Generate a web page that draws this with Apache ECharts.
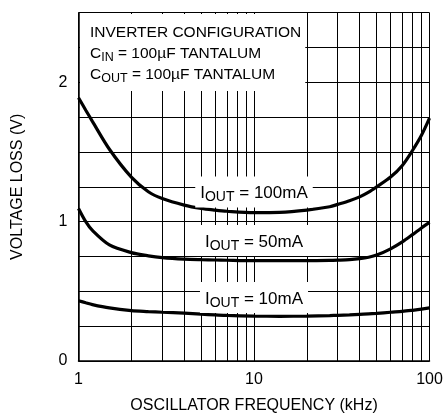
<!DOCTYPE html>
<html>
<head>
<meta charset="utf-8">
<script src="https://cdn.jsdelivr.net/npm/echarts@6/dist/echarts.min.js"></script>
<style>
  html, body { margin: 0; padding: 0; background: #fff; }
  #chart { width: 448px; height: 419px; }
</style>
</head>
<body>
<div id="chart"></div>
<script>
// ---- data ----
const freqKHz   = [1, 1.1, 1.2, 1.5, 2, 2.5, 3, 4, 5, 6, 7, 10, 14, 20, 27, 30, 35, 40, 45, 50, 60, 70, 80, 90, 100];
const loss100mA = [1.89, 1.80, 1.72, 1.52, 1.32, 1.215, 1.166, 1.119, 1.095, 1.083, 1.075, 1.065, 1.067, 1.083, 1.107, 1.124, 1.15, 1.178, 1.212, 1.25, 1.32, 1.404, 1.511, 1.62, 1.743];
const loss50mA  = [1.095, 1.0, 0.937, 0.833, 0.778, 0.755, 0.742, 0.731, 0.727, 0.725, 0.723, 0.72, 0.72, 0.72, 0.722, 0.724, 0.728, 0.735, 0.745, 0.76, 0.805, 0.855, 0.907, 0.955, 0.995];
const loss10mA  = [0.433, 0.418, 0.405, 0.381, 0.362, 0.355, 0.35, 0.343, 0.336, 0.331, 0.327, 0.322, 0.321, 0.322, 0.326, 0.328, 0.331, 0.335, 0.338, 0.342, 0.35, 0.356, 0.364, 0.372, 0.381];
const minorFreqs = [2, 3, 4, 5, 6, 7, 8, 9, 20, 30, 40, 50, 60, 70, 80, 90];
const yLabels = [0, 1, 2];
const curveLabels = ['100mA', '50mA', '10mA'];
const curveLabelX = [10, 10, 10];
const curveLabelY = [1.213, 0.865, 0.455];
const noteLines = ['INVERTER CONFIGURATION', 'C{sub|IN} = 100µF TANTALUM', 'C{sub|OUT} = 100µF TANTALUM'];

const FONT = '"Liberation Sans Narrow", "Liberation Sans", Arial, sans-serif';
const chart = echarts.init(document.getElementById('chart'), null, { renderer: 'canvas' });

function pairs(vals) { return freqKHz.map((f, i) => [f, vals[i]]); }

const richSub = {
  sub: { fontFamily: FONT, fontSize: 14, color: '#000', verticalAlign: 'bottom', lineHeight: 22 }
};

function curve(name, vals, idx) {
  return {
    name: name,
    type: 'line',
    data: pairs(vals),
    smooth: 0.3,
    showSymbol: false,
    symbol: 'none',
    z: 3,
    lineStyle: { color: '#000', width: 3.2 },
    markPoint: {
      z: 10,
      silent: true,
      animation: false,
      symbol: 'rect',
      symbolSize: 0,
      data: [{
        coord: [curveLabelX[idx], curveLabelY[idx]],
        label: {
          show: true,
          position: 'inside',
          formatter: 'I{sub|OUT} = ' + curveLabels[idx],
          fontFamily: FONT,
          fontSize: 17,
          color: '#000',
          lineHeight: 22,
          backgroundColor: '#fff',
          padding: [6, 5, 3, 5],
          rich: richSub
        }
      }]
    }
  };
}

const option = {
  animation: false,
  backgroundColor: '#fff',
  title: {
    text: noteLines.join('\n'),
    left: 80,
    top: 14,
    padding: [8, 4, 6, 10],
    backgroundColor: '#fff',
    textStyle: {
      fontFamily: FONT, fontSize: 15.5, fontWeight: 'normal', color: '#000', lineHeight: 21,
      rich: { sub: { fontFamily: FONT, fontSize: 12.5, color: '#000', verticalAlign: 'bottom', lineHeight: 21 } }
    }
  },
  grid: { left: 78.5, right: 18.5, top: 12.7, bottom: 55.7, containLabel: false },
  xAxis: {
    type: 'log',
    logBase: 10,
    min: 1,
    max: 100,
    name: 'OSCILLATOR FREQUENCY (kHz)',
    nameLocation: 'middle',
    nameGap: 37,
    nameTextStyle: { fontFamily: FONT, fontSize: 16, color: '#000' },
    axisLine: { lineStyle: { color: '#000', width: 1.5 } },
    axisTick: { show: false },
    axisLabel: { fontFamily: FONT, fontSize: 16, color: '#000', margin: 11 },
    splitLine: { show: true, lineStyle: { color: '#000', width: 1 } }
  },
  yAxis: {
    type: 'value',
    min: 0,
    max: 2.5,
    interval: 0.25,
    name: 'VOLTAGE LOSS (V)',
    nameLocation: 'middle',
    nameGap: 53,
    nameTextStyle: { fontFamily: FONT, fontSize: 16, color: '#000' },
    axisLine: { show: true, lineStyle: { color: '#000', width: 1.5 } },
    axisTick: { show: false },
    axisLabel: {
      fontFamily: FONT, fontSize: 16, color: '#000', margin: 11,
      formatter: v => (yLabels.indexOf(Math.round(v * 100) / 100) >= 0 ? String(v) : '')
    },
    splitLine: { show: true, lineStyle: { color: '#000', width: 1 } }
  },
  series: [
    curve('100mA', loss100mA, 0),
    curve('50mA', loss50mA, 1),
    Object.assign(curve('10mA', loss10mA, 2), {
      markLine: {
        z: 1,
        silent: true,
        animation: false,
        symbol: ['none', 'none'],
        label: { show: false },
        lineStyle: { color: '#000', width: 1, type: 'solid' },
        data: minorFreqs.map(f => ({ xAxis: f }))
      }
    })
  ]
};
chart.setOption(option);
</script>
</body>
</html>
